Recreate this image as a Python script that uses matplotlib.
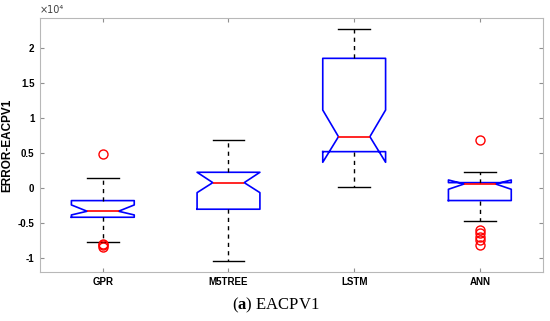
import numpy as np
import matplotlib.pyplot as plt
from matplotlib.ticker import FuncFormatter

# values (raw units, axis shown in x10^4)
models = ["GPR", "M5TREE", "LSTM", "ANN"]
whislo = [-7700, -10430, 190, -4700]
q1 = [-4190, -3040, 5190, -1800]
cilo = [-3860, -670, 3670, -190]
med = [-3330, 760, 7330, 570]
cihi = [-2430, 2240, 11140, 1140]
q3 = [-1810, 2240, 18530, 760]
whishi = [1400, 6860, 22670, 2300]
fliers = [
    [4900, -8000, -8200, -8400],
    [],
    [],
    [6860, -6000, -6470, -7000, -7500, -8100],
]

plt.rcParams["font.family"] = ["Liberation Sans", "DejaVu Sans"]
plt.rcParams["mathtext.fontset"] = "custom"
plt.rcParams["mathtext.rm"] = "Liberation Serif"
plt.rcParams["mathtext.bf"] = "Liberation Serif:bold"

stats = []
for i, name in enumerate(models):
    stats.append(dict(label=name, whislo=whislo[i], q1=q1[i], cilo=cilo[i],
                      med=med[i], cihi=cihi[i], q3=q3[i], whishi=whishi[i],
                      fliers=fliers[i]))

fig = plt.figure(figsize=(5.5, 3.21), dpi=100)
ax = fig.add_axes([0.0727, 0.153, 0.914, 0.791])

ax.bxp(stats, positions=[1, 2, 3, 4], widths=0.5, shownotches=True,
       boxprops=dict(color="blue", linewidth=1.2),
       medianprops=dict(color="red", linewidth=1.2),
       whiskerprops=dict(color="black", linestyle=(0, (3, 3)), linewidth=1),
       capprops=dict(color="black", linewidth=1),
       capwidths=0.25,
       flierprops=dict(marker="o", markerfacecolor="none", markeredgecolor="red",
                       markersize=6.5, markeredgewidth=1))

ax.set_xlim(0.5, 4.5)
ax.set_ylim(-12000, 24300)
ax.set_yticks([-10000, -5000, 0, 5000, 10000, 15000, 20000])
ax.yaxis.set_major_formatter(FuncFormatter(lambda v, p: f"{v / 1e4:g}"))
ax.set_xticks([1, 2, 3, 4])
ax.set_xticklabels(models)

for s in ax.spines.values():
    s.set_color("#b8b8b8")
    s.set_linewidth(0.8)
ax.tick_params(direction="in", length=3, width=0.8, color="#909090",
               labelsize=7, top=True, right=True, pad=4)
for lab in ax.get_xticklabels() + ax.get_yticklabels():
    lab.set_fontweight("bold")

ax.set_ylabel("ERROR-EACPV1", fontsize=8.5, fontweight="bold", labelpad=3)
ax.text(0.0, 1.01, "\u00d710\u2074", transform=ax.transAxes, fontsize=7,
        family=["DejaVu Sans"], color="#404040", ha="left", va="bottom")

fig.text(0.502, 0.05, r"($\mathbf{a}$) EACPV1", family="Liberation Serif",
         fontsize=12, ha="center", va="center")

fig.savefig("out.png", dpi=100)
